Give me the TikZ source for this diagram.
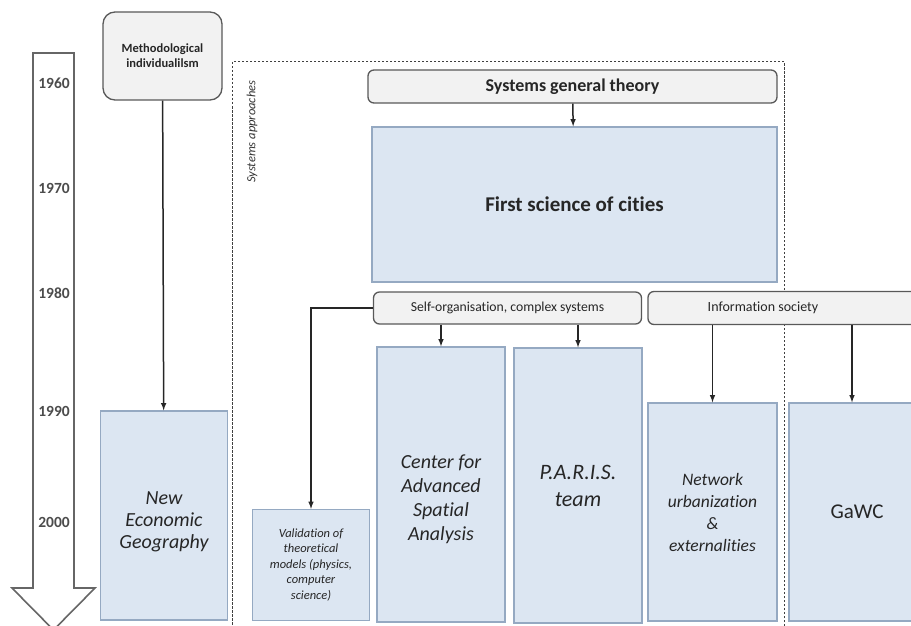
\documentclass[tikz,border=0pt]{standalone}
\usepackage{fontspec}
\setmainfont{Carlito}[Ligatures=NoCommon]
\usepackage{xcolor}
\usetikzlibrary{calc}

\definecolor{boxblue}{HTML}{DCE6F2}
\definecolor{boxline}{HTML}{95A9C2}
\definecolor{headfill}{HTML}{F2F2F2}
\definecolor{headline}{HTML}{595959}

\begin{document}
\begin{tikzpicture}
[x=1pt,y=-1pt,>=latex,
field/.style={draw=boxline,fill=boxblue,line width=1.3pt,inner sep=2pt,align=center,text=black!85},
theme/.style={draw=headline,fill=headfill,line width=1.3pt,rounded corners=6pt,inner sep=2pt,align=center,text=black!85},
year/.style={text=black!70,font=\fontsize{15.5}{17}\selectfont\bfseries},
link/.style={->,draw=black!85,line width=1.5pt},]

\useasboundingbox (0,0) rectangle (911,626);

%Time arrow
\def\sl{33}
\def\sr{74}
\draw[draw=black!60,fill=white,line width=1.6pt] (\sl,53) -- (\sr,53) -- (\sr,588) -- (95,588) -- (53.5,630)
  -- (12,588) -- (\sl,588) -- cycle;

%Years
\node (y60) at (54,83)[year] {1960};
\node (y70) at (54,188)[year] {1970};
\node (y80) at (54,293)[year] {1980};
\node (y90) at (54,411)[year] {1990};
\node (y00) at (54,522)[year] {2000};

%Systems approaches frame
\draw[black!75,line width=1pt,dash pattern=on 2.5pt off 1.5pt] (232,62) rectangle (784,650);
\node (sys) at (252,77)[rotate=90,anchor=east,font=\fontsize{12.5}{14}\selectfont\itshape,text=black!80] {Systems approaches};

%Left branch
\node (meth) at (162.5,56)[theme,rounded corners=12pt,minimum width=119pt,minimum height=88pt,
  font=\fontsize{12.5}{15}\selectfont\bfseries] {Methodological\\individualilsm};
\node (neg) at (164,515.5)[field,minimum width=127pt,minimum height=209pt,
  font=\fontsize{20}{22}\selectfont\itshape] {\mbox{}\\[3pt]New\\Economic\\Geography};

%Systems branch
\node (sgt) at (572.5,86.5)[theme,minimum width=409pt,minimum height=33pt,
  font=\fontsize{18}{20}\selectfont\bfseries] {Systems general theory};
\node (fsc) at (574.5,204.5)[field,minimum width=405pt,minimum height=155pt,
  font=\fontsize{21}{23}\selectfont\bfseries] {First science of cities};
\node (self) at (507.5,308)[theme,minimum width=268pt,minimum height=32pt,
  font=\fontsize{13.7}{15}\selectfont] {Self-organisation, complex systems};
\node (info) at (787,308)[theme,minimum width=278pt,minimum height=33pt,
  font=\fontsize{14}{16}\selectfont] {\hspace*{-48pt}Information society};

\node (valid) at (311,565)[field,minimum width=117pt,minimum height=111pt,
  font=\fontsize{12.5}{15.5}\selectfont\itshape] {Validation of\\theoretical\\models (physics,\\computer\\science)};
\node (casa) at (441,484.5)[field,minimum width=128pt,minimum height=275pt,
  font=\fontsize{20}{24}\selectfont\itshape] {\mbox{}\\[20pt]Center for\\Advanced\\Spatial\\Analysis};
\node (paris) at (578,485.5)[field,minimum width=128pt,minimum height=275pt,
  font=\fontsize{22}{27}\selectfont\itshape] {P.A.R.I.S.\\team};
\node (netw) at (712.5,512)[field,minimum width=129pt,minimum height=218pt,
  font=\fontsize{17.5}{22}\selectfont\itshape] {Network\\urbanization\\\&\\externalities};
\node (gawc) at (857,512)[field,minimum width=136pt,minimum height=218pt,
  font=\fontsize{21}{23}\selectfont] {GaWC};

%Arrows
\draw[link] (meth) -- (neg);
\draw[link] (sgt) -- (fsc);
\draw[link] (self.west) -| (valid.north);
\draw[link] (self.south -| casa.north) -- (casa.north);
\draw[link] (self.south -| paris.north) -- (paris.north);
\draw[link] (info.south -| netw.north) -- (netw.north);
\draw[link] ($(info.south -| gawc.north)+(-5,0)$) -- ($(gawc.north)+(-5,0)$);

\end{tikzpicture}
\end{document}
